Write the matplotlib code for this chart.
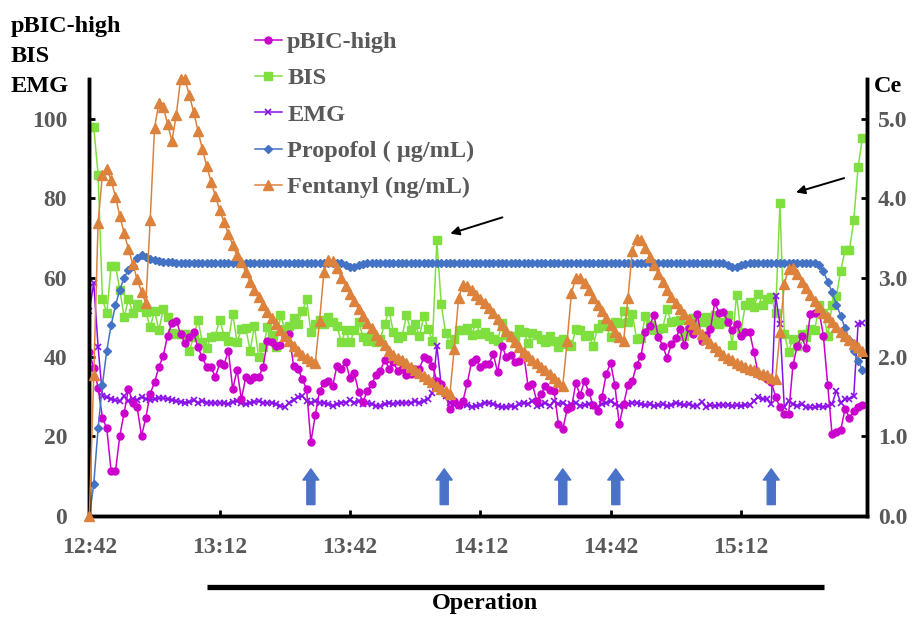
import numpy as np
import matplotlib
matplotlib.use("Agg")
import matplotlib.pyplot as plt
from matplotlib.transforms import blended_transform_factory

# ---------------- data (1-minute samples from 12:42) ----------------
pbic_high = [41.2, 37.2, 32.3, 24.7, 22.0, 11.2, 11.2, 20.1, 26.0, 31.9,
             28.5, 27.3, 20.1, 24.7, 30.8, 33.6, 37.5, 40.3, 45.4, 48.5,
             49.2, 45.8, 43.5, 45.0, 46.2, 42.4, 39.9, 37.5, 37.5, 34.9,
             38.4, 38.1, 41.6, 31.9, 36.7, 29.4, 34.9, 34.3, 34.9, 34.9,
             37.6, 44.1, 43.9, 42.9, 43.0, 45.0, 45.8, 37.8, 37.1, 34.4,
             31.9, 18.6, 25.3, 31.5, 33.4, 34.0, 32.6, 37.8, 37.1, 38.8,
             34.6, 35.9, 31.2, 28.7, 31.5, 33.2, 35.4, 36.5, 39.3, 37.1,
             38.7, 36.5, 37.0, 35.4, 35.7, 37.0, 37.1, 39.9, 39.5, 37.8,
             34.0, 33.2, 30.6, 26.8, 28.9, 27.8, 28.9, 33.4, 38.8, 39.5,
             37.4, 38.2, 38.2, 40.8, 36.1, 42.9, 39.9, 40.5, 38.8, 39.1,
             40.8, 32.7, 33.2, 28.9, 30.6, 32.7, 31.7, 31.5, 23.0, 21.8,
             26.8, 27.3, 33.4, 30.4, 34.0, 31.1, 27.8, 26.4, 29.8, 35.7,
             38.5, 32.9, 23.0, 28.1, 32.9, 34.0, 38.0, 40.3, 46.4, 47.9,
             50.6, 45.0, 42.9, 39.7, 43.3, 44.7, 47.1, 43.0, 47.3, 45.8,
             50.9, 44.1, 45.6, 47.1, 53.8, 51.1, 51.3, 48.8, 46.7, 48.4,
             45.4, 46.4, 46.4, 41.3, 35.7, 35.3, 34.4, 33.7, 30.0, 27.3,
             25.6, 25.6, 38.0, 42.9, 45.2, 42.2, 50.9, 51.1, 51.7, 45.4,
             32.9, 20.5, 21.1, 21.6, 27.0, 24.7, 26.4, 27.3, 27.8]

bis = [98.0, 98.0, 86.0, 54.7, 51.0, 62.9, 63.0, 57.0, 50.0, 54.7,
       51.0, 53.4, 52.6, 51.3, 47.5, 51.6, 46.8, 52.0, 50.0, 46.0,
       45.8, 45.8, 45.8, 41.6, 45.0, 49.4, 43.7, 42.3, 45.1, 45.4,
       49.4, 45.4, 44.1, 50.9, 43.7, 47.1, 47.3, 41.6, 47.8, 39.9,
       42.4, 47.5, 45.6, 42.4, 50.6, 47.1, 47.8, 49.8, 48.4, 51.5,
       54.5, 46.2, 48.4, 49.4, 48.4, 50.0, 48.8, 47.9, 43.7, 46.7,
       43.7, 46.7, 48.9, 45.0, 44.1, 45.4, 43.7, 44.6, 48.4, 51.7,
       46.2, 44.7, 45.2, 50.5, 46.7, 48.4, 45.2, 50.3, 47.1, 44.1,
       69.4, 53.4, 46.1, 43.3, 44.6, 46.7, 46.7, 47.3, 45.6, 48.6,
       45.8, 46.4, 45.4, 44.6, 44.1, 48.6, 45.6, 45.2, 44.7, 47.1,
       46.4, 43.5, 46.1, 45.6, 44.6, 43.9, 45.2, 44.1, 42.4, 44.6,
       43.3, 42.7, 47.1, 46.9, 45.4, 45.6, 42.9, 47.3, 48.4, 47.9,
       45.0, 48.9, 48.6, 51.5, 48.8, 50.9, 44.6, 44.7, 50.3, 48.1,
       46.7, 47.1, 47.3, 52.0, 48.8, 49.2, 49.4, 45.4, 46.7, 49.8,
       49.2, 48.9, 50.0, 48.4, 50.5, 48.4, 48.9, 50.5, 43.0, 55.7,
       46.4, 53.0, 53.8, 52.6, 55.9, 53.0, 54.7, 55.1, 51.1, 78.7,
       45.8, 41.3, 44.6, 42.9, 45.8, 45.0, 47.1, 46.7, 53.0, 51.1,
       45.2, 53.2, 55.5, 61.8, 66.9, 66.9, 74.5, 88.0, 95.2]

emg = [51.6, 58.7, 42.6, 30.2, 29.8, 29.4, 29.1, 28.8, 30.2, 28.9,
       29.4, 29.1, 29.9, 29.4, 29.1, 29.4, 29.6, 29.6, 29.4, 29.1,
       28.9, 28.7, 28.5, 28.7, 29.1, 28.5, 28.9, 28.5, 28.5, 28.3,
       28.5, 28.3, 28.1, 28.7, 28.9, 28.3, 28.1, 28.5, 28.7, 28.9,
       28.5, 28.4, 28.5, 28.1, 27.7, 27.3, 28.5, 29.2, 29.8, 30.2,
       28.9, 28.5, 28.9, 28.5, 28.5, 28.1, 27.7, 28.1, 28.5, 28.5,
       29.2, 28.5, 28.9, 28.1, 28.4, 28.1, 27.7, 27.7, 28.1, 28.5,
       28.1, 28.5, 28.4, 28.5, 28.4, 28.9, 28.5, 28.9, 29.4, 31.0,
       42.9, 32.9, 30.2, 28.5, 27.8, 27.7, 28.1, 27.8, 27.5, 27.7,
       27.8, 28.5, 28.4, 28.1, 27.7, 27.5, 27.3, 27.7, 27.3, 28.1,
       28.5, 28.1, 28.9, 27.7, 27.8, 28.5, 27.7, 28.9, 28.1, 28.5,
       27.7, 28.1, 28.5, 27.7, 27.8, 28.1, 27.7, 27.3, 28.1, 28.5,
       28.9, 28.1, 27.7, 27.7, 28.1, 28.5, 28.4, 28.1, 27.8, 28.1,
       27.7, 27.8, 28.1, 27.7, 27.8, 28.5, 28.1, 27.8, 28.1, 27.7,
       27.7, 28.7, 27.5, 27.8, 27.7, 28.0, 27.8, 28.0, 27.7, 27.8,
       27.7, 28.0, 27.8, 29.0, 29.8, 29.4, 29.4, 28.1, 55.5, 48.4,
       27.3, 28.9, 28.1, 27.7, 28.1, 27.3, 27.3, 27.3, 27.7, 27.3,
       27.7, 28.1, 31.5, 28.5, 29.4, 29.5, 30.2, 48.4, 48.6]

propofol = [0.00, 0.40, 1.10, 1.65, 2.08, 2.40, 2.65, 2.85, 3.00, 3.10,
            3.15, 3.25, 3.28, 3.26, 3.24, 3.22, 3.21, 3.20, 3.20, 3.20,
            3.19, 3.19, 3.19, 3.19, 3.19, 3.19, 3.19, 3.19, 3.19, 3.19,
            3.19, 3.19, 3.19, 3.19, 3.19, 3.19, 3.19, 3.19, 3.19, 3.19,
            3.19, 3.19, 3.19, 3.19, 3.19, 3.19, 3.19, 3.19, 3.19, 3.19,
            3.19, 3.19, 3.19, 3.19, 3.19, 3.19, 3.19, 3.19, 3.18, 3.16,
            3.14, 3.14, 3.16, 3.17, 3.18, 3.18, 3.18, 3.19, 3.19, 3.19,
            3.19, 3.19, 3.19, 3.19, 3.19, 3.19, 3.19, 3.19, 3.19, 3.19,
            3.19, 3.19, 3.19, 3.19, 3.19, 3.19, 3.19, 3.19, 3.19, 3.19,
            3.19, 3.19, 3.19, 3.19, 3.19, 3.19, 3.19, 3.19, 3.19, 3.19,
            3.19, 3.19, 3.19, 3.19, 3.19, 3.19, 3.19, 3.19, 3.19, 3.19,
            3.19, 3.19, 3.19, 3.19, 3.19, 3.19, 3.19, 3.19, 3.19, 3.19,
            3.19, 3.19, 3.19, 3.19, 3.19, 3.19, 3.19, 3.19, 3.19, 3.19,
            3.19, 3.19, 3.19, 3.19, 3.19, 3.19, 3.19, 3.19, 3.19, 3.19,
            3.19, 3.19, 3.19, 3.19, 3.19, 3.19, 3.18, 3.16, 3.13, 3.14,
            3.16, 3.17, 3.18, 3.18, 3.18, 3.18, 3.18, 3.18, 3.18, 3.18,
            3.18, 3.18, 3.18, 3.18, 3.18, 3.18, 3.18, 3.18, 3.16, 3.08,
            2.95, 2.82, 2.66, 2.52, 2.36, 2.22, 2.08, 1.95, 1.84]

fentanyl = [0.00, 1.77, 3.69, 4.30, 4.37, 4.23, 4.02, 3.78, 3.56, 3.36,
            3.17, 2.98, 2.82, 2.68, 3.73, 4.89, 5.20, 5.15, 4.94, 4.72,
            5.05, 5.50, 5.50, 5.30, 5.09, 4.85, 4.62, 4.41, 4.21, 4.03,
            3.85, 3.70, 3.55, 3.41, 3.28, 3.20, 3.07, 2.95, 2.84, 2.76,
            2.66, 2.57, 2.49, 2.42, 2.34, 2.26, 2.20, 2.14, 2.08, 2.03,
            1.99, 1.95, 1.92, 2.46, 3.07, 3.22, 3.21, 3.12, 3.00, 2.90,
            2.80, 2.70, 2.61, 2.52, 2.43, 2.36, 2.28, 2.21, 2.15, 2.08,
            2.02, 1.99, 1.96, 1.92, 1.88, 1.84, 1.80, 1.76, 1.72, 1.68,
            1.64, 1.60, 1.57, 1.53, 2.10, 2.74, 2.91, 2.90, 2.84, 2.78,
            2.73, 2.68, 2.62, 2.55, 2.48, 2.40, 2.33, 2.26, 2.19, 2.13,
            2.06, 2.01, 1.96, 1.92, 1.87, 1.83, 1.78, 1.74, 1.69, 1.64,
            2.20, 2.81, 3.00, 3.00, 2.93, 2.84, 2.74, 2.66, 2.58, 2.49,
            2.40, 2.32, 2.25, 2.20, 2.74, 3.34, 3.49, 3.47, 3.38, 3.26,
            3.16, 3.05, 2.94, 2.85, 2.76, 2.68, 2.60, 2.54, 2.48, 2.41,
            2.35, 2.29, 2.23, 2.18, 2.12, 2.07, 2.03, 1.99, 1.96, 1.93,
            1.90, 1.88, 1.85, 1.83, 1.81, 1.79, 1.77, 1.74, 1.72, 2.31,
            2.92, 3.11, 3.12, 3.05, 2.95, 2.87, 2.78, 2.70, 2.63, 2.56,
            2.50, 2.44, 2.38, 2.32, 2.27, 2.22, 2.17, 2.13, 2.08]

tick_minutes = [0, 30, 60, 90, 120, 150]
tick_labels = ["12:42", "13:12", "13:42", "14:12", "14:42", "15:12"]
left_ticks = [0, 20, 40, 60, 80, 100]
right_ticks = [0.0, 1.0, 2.0, 3.0, 4.0, 5.0]
stimulus_minutes = [51, 81.7, 109, 121.2, 157]     # blue arrows
bis_spike_arrows = [((95.1, 75.2), (83.1, 71.1)), ((173.8, 85.1), (162.7, 81.5))]
operation_start, operation_end = 27.1, 169.1

# ---------------- style ----------------
plt.rcParams['font.family'] = ['Liberation Serif', 'DejaVu Serif']
plt.rcParams['font.weight'] = 'bold'
GRAY = '#595959'
C_PBIC, C_BIS, C_EMG = '#CC00CC', '#7FDF3F', '#8A10E8'
C_PROP, C_FENT = '#4472C4', '#DC823C'

fig = plt.figure(figsize=(9.2, 6.17), dpi=100)
ax = fig.add_axes([89.4 / 920, 1 - 515.7 / 617, (866.8 - 89.4) / 920, (515.7 - 79.3) / 617])
ax2 = ax.twinx()

def t(s):
    return np.arange(len(s))

l1, = ax.plot(t(pbic_high), pbic_high, '-o', color=C_PBIC, lw=1.1, ms=5, label='pBIC-high', zorder=3)
l2, = ax.plot(t(bis), bis, '-s', color=C_BIS, lw=1.1, ms=5.5, label='BIS', zorder=2)
l3, = ax.plot(t(emg), emg, '-x', color=C_EMG, lw=1.1, ms=5, mew=1.2, label='EMG', zorder=2)
l4, = ax2.plot(t(propofol), propofol, '-D', color=C_PROP, lw=1.1, ms=4.3, label='Propofol ( \u03bcg/mL)', zorder=2)
l5, = ax2.plot(t(fentanyl), fentanyl, '-^', color=C_FENT, lw=1.1, ms=6.5, label='Fentanyl (ng/mL)',
               zorder=3, clip_on=False)

ax.set_xlim(0, 179)
ax.set_ylim(0, 110)
ax2.set_ylim(0, 5.5)

for a in (ax, ax2):
    for sp in a.spines.values():
        sp.set_linewidth(2.5)
    a.spines['top'].set_visible(False)

ax.set_xticks(tick_minutes)
ax.set_xticklabels(tick_labels)
ax.set_yticks(left_ticks)
ax2.set_yticks(right_ticks)
ax2.set_yticklabels([f"{v:.1f}" for v in right_ticks])

ax.tick_params(axis='x', direction='in', length=4.5, width=2, pad=15, labelsize=17, labelcolor=GRAY)
ax.tick_params(axis='y', direction='in', length=4.5, width=2, pad=16, labelsize=17, labelcolor=GRAY)
ax2.tick_params(axis='y', direction='in', length=4.5, width=2, pad=8, labelsize=17, labelcolor=GRAY)

# blue stimulus arrows
for m in stimulus_minutes:
    ax.annotate('', xy=(m, 11.8), xytext=(m, 2.8),
                arrowprops=dict(arrowstyle='simple,head_length=0.8,head_width=1.15,tail_width=0.58',
                                color='#4A72C8', shrinkA=0, shrinkB=0, mutation_scale=10))

# black arrows pointing at BIS spikes
for (x0, y0), (x1, y1) in bis_spike_arrows:
    ax.annotate('', xy=(x1, y1), xytext=(x0, y0),
                arrowprops=dict(arrowstyle='-|>', color='black', lw=1.4,
                                shrinkA=0, shrinkB=0, mutation_scale=13))

# operation bar
trans = blended_transform_factory(ax.transData, fig.transFigure)
ax.plot([operation_start, operation_end], [1 - 587 / 617] * 2, color='black', lw=3.8,
        transform=trans, clip_on=False, solid_capstyle='butt')
fig.text(485 / 920, 1 - 604 / 617, 'Operation', ha='center', va='center', fontsize=17.5,
         fontweight='bold', color='black')

# axis titles
fig.text(11 / 920, 1 - 16 / 617, 'pBIC-high\nBIS\nEMG', ha='left', va='top', fontsize=17.5,
         fontweight='bold', linespacing=1.55, color='black')
fig.text(874 / 920, 1 - 86 / 617, 'Ce', ha='left', va='center', fontsize=17.5,
         fontweight='bold', color='black')

leg = fig.legend(handles=[l1, l2, l3, l4, l5], loc='upper left',
                 bbox_to_anchor=(255 / 920, 1 - 31 / 617), frameon=False,
                 fontsize=17.5, handlelength=1.1, handletextpad=0.22,
                 labelspacing=0.59, borderpad=0, borderaxespad=0)
for txt in leg.get_texts():
    txt.set_color(GRAY)
    txt.set_fontweight('bold')

fig.savefig('out.png', dpi=100)
